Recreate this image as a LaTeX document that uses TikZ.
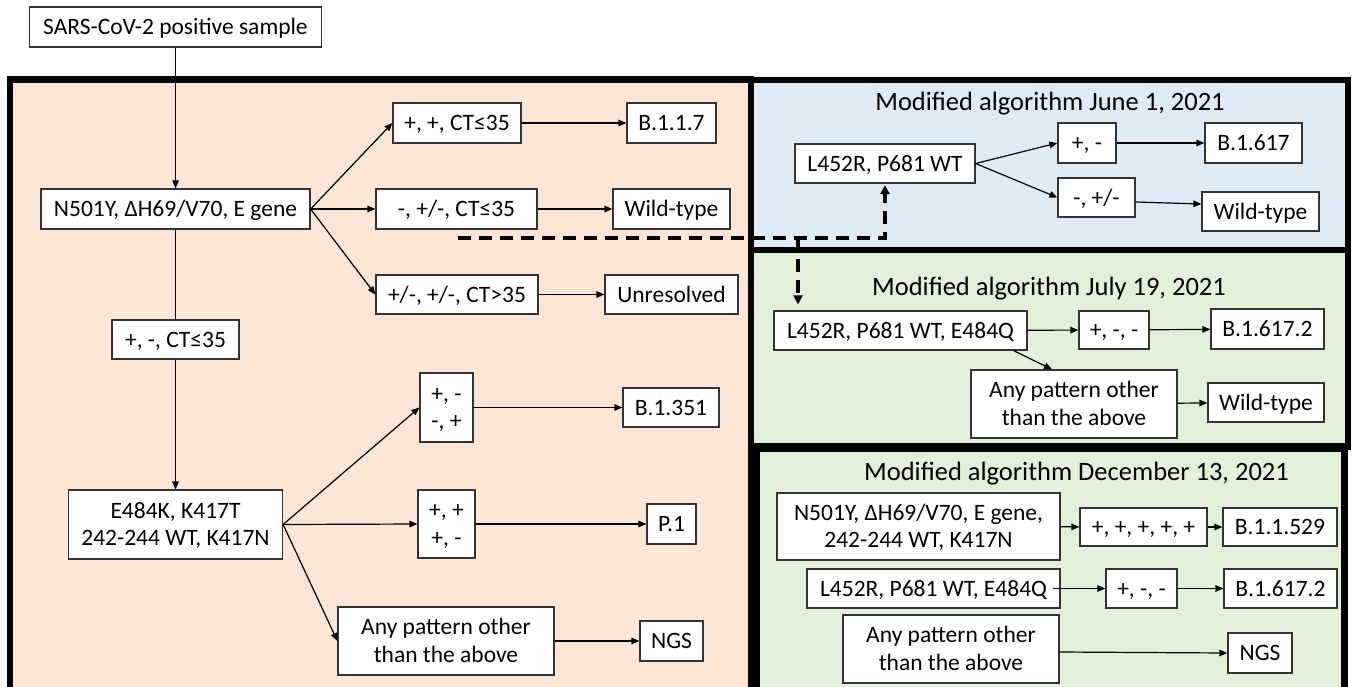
\documentclass[tikz,border=0pt]{standalone}
\usepackage{fontspec}
\setmainfont{Carlito}
\usetikzlibrary{arrows.meta}
\definecolor{peach}{HTML}{FBE5D6}
\definecolor{lblue}{HTML}{DEEBF7}
\definecolor{lgreen}{HTML}{E2F0D9}
\begin{document}
\begin{tikzpicture}[x=1pt,y=-1pt,
  box/.style={draw=black!80, fill=white, line width=1.2pt, inner sep=0pt,
    font=\fontsize{23.5}{27.7}\selectfont, text height=15pt, text depth=0pt},
  twol/.style={align=center, text height=42.7pt, text depth=0pt},
  ttl/.style={font=\fontsize{26.5}{32}\selectfont, anchor=base, inner sep=0pt},
  arr/.style={-{Triangle[length=8pt,width=6.5pt]}, line width=1.2pt},
  ln/.style={line width=1.2pt},
  dsh/.style={line width=3.5pt, dash pattern=on 13pt off 8pt, -{Triangle[length=9pt,width=9pt]}},
  panel/.style={line width=6.5pt}]
\useasboundingbox (0,0) rectangle (1354,686);
\clip (0,0) rectangle (1354,686);

% panels
\draw[panel, fill=peach] (10,79.5) rectangle (751,730);
\draw[panel, fill=lblue] (751,80) rectangle (1348,250);
\draw[panel, fill=lgreen] (751,250) rectangle (1348,446.5);
\draw[panel, fill=lgreen] (756.5,448.5) rectangle (1344.5,730);

% main algorithm
\node[box, minimum width=292pt, minimum height=40pt] (top) at (175.5,27) {SARS-CoV-2 positive sample};
\node[box, minimum width=269pt, minimum height=40pt] (n501) at (175.5,209) {N501Y, ΔH69/V70, E gene};
\node[box, minimum width=128pt, minimum height=40pt] (pp) at (457,123) {+, +, CT≤35};
\node[box, minimum width=89pt, minimum height=40pt] (b117) at (671.5,123) {B.1.1.7};
\node[box, minimum width=161pt, minimum height=40pt] (mp) at (456.5,209) {-, +/-, CT≤35};
\node[box, minimum width=117pt, minimum height=40pt] (wt1) at (671.5,209) {Wild-type};
\node[box, minimum width=162pt, minimum height=39pt] (pmpm) at (457,294.5) {+/-, +/-, CT>35};
\node[box, minimum width=133pt, minimum height=39pt] (unres) at (671.5,294.5) {Unresolved};
\node[box, minimum width=127pt, minimum height=39pt] (pmct) at (175.5,339.5) {+, -, CT≤35};
\node[box, twol, minimum width=214pt, minimum height=69pt] (e484) at (175.5,524.5) {E484K, K417T\\242-244 WT, K417N};
\node[box, twol, minimum width=53pt, minimum height=69pt] (pm2) at (446.5,407.5) {+, -\\-, +};
\node[box, minimum width=96pt, minimum height=39pt] (b1351) at (671,407.5) {B.1.351};
\node[box, twol, minimum width=57pt, minimum height=68pt] (pp2) at (446.5,524) {+, +\\+, -};
\node[box, minimum width=49pt, minimum height=40pt] (p1) at (671.5,524) {P.1};
\node[box, twol, minimum width=216pt, minimum height=68pt] (any1) at (446,641) {Any pattern other\\than the above};
\node[box, minimum width=63pt, minimum height=40pt] (ngs1) at (671.5,641) {NGS};

\draw[arr] (top) -- (n501);
\draw[arr] (n501.east) -- (pp.west);
\draw[arr] (n501.east) -- (mp.west);
\draw[arr] (n501.east) -- (pmpm.west);
\draw[arr] (pp) -- (b117);
\draw[arr] (mp) -- (wt1);
\draw[arr] (pmpm) -- (unres);
\draw[ln] (n501) -- (pmct);
\draw[arr] (pmct) -- (e484);
\draw[arr] (e484.east) -- (pm2.west);
\draw[arr] (e484.east) -- (pp2.west);
\draw[arr] (e484.east) -- (any1.west);
\draw[arr] (pm2) -- (b1351);
\draw[arr] (pp2) -- (p1);
\draw[arr] (any1) -- (ngs1);

% June 1
\node[ttl] (t1) at (1050,110) {Modified algorithm June 1, 2021};
\node[box, minimum width=180pt, minimum height=39pt] (l452a) at (885,163.5) {L452R, P681 WT};
\node[box, minimum width=58pt, minimum height=40pt] (pmA) at (1087,143) {+, -};
\node[box, minimum width=97pt, minimum height=40pt] (b1617) at (1253.5,143) {B.1.617};
\node[box, minimum width=77pt, minimum height=39pt] (mpmA) at (1096.5,197.5) {-, +/-};
\node[box, minimum width=117pt, minimum height=39pt] (wtA) at (1260.5,211.5) {Wild-type};
\draw[arr] (l452a.east) -- (pmA.west);
\draw[arr] (l452a.east) -- (mpmA.west);
\draw[arr] (pmA) -- (b1617);
\draw[arr] ([yshift=-4.5pt]mpmA.east) -- ([yshift=7.5pt]wtA.west);

% July 19
\node[ttl] (t2) at (1049,295) {Modified algorithm July 19, 2021};
\node[box, minimum width=253pt, minimum height=39pt] (l452b) at (900.5,330.5) {L452R, P681 WT, E484Q};
\node[box, minimum width=70pt, minimum height=38pt] (pmmB) at (1114,330) {+, -, -};
\node[box, minimum width=113pt, minimum height=40pt] (b16172a) at (1267.5,329) {B.1.617.2};
\node[box, twol, minimum width=206pt, minimum height=68pt] (anyB) at (1074,404) {Any pattern other\\than the above};
\node[box, minimum width=116pt, minimum height=39pt] (wtB) at (1266,402.5) {Wild-type};
\draw[arr] (l452b) -- (pmmB);
\draw[arr] (pmmB) -- (b16172a);
\draw[arr] ([xshift=-14pt]l452b.south east) -- ([xshift=-22pt]anyB.north);
\draw[arr] (anyB) -- (wtB);

% December 13
\node[ttl] (t3) at (1076.5,480) {Modified algorithm December 13, 2021};
\node[box, twol, minimum width=283pt, minimum height=67pt] (n501c) at (918.5,526.5) {N501Y, ΔH69/V70, E gene,\\242-244 WT, K417N};
\node[box, minimum width=127pt, minimum height=38pt] (p5) at (1143.5,527) {+, +, +, +, +};
\node[box, minimum width=114pt, minimum height=38pt] (b11529) at (1280,527) {B.1.1.529};
\node[box, minimum width=253pt, minimum height=39pt] (l452c) at (933.5,588.5) {L452R, P681 WT, E484Q};
\node[box, minimum width=71pt, minimum height=39pt] (pmmC) at (1141.5,588.5) {+, -, -};
\node[box, minimum width=113pt, minimum height=39pt] (b16172b) at (1280.5,588.5) {B.1.617.2};
\node[box, twol, minimum width=216pt, minimum height=68pt] (anyC) at (951,649) {Any pattern other\\than the above};
\node[box, minimum width=64pt, minimum height=40pt] (ngsC) at (1260,653) {NGS};
\draw[arr] (n501c) -- (p5);
\draw[arr] (p5) -- (b11529);
\draw[arr] ([xshift=-8pt]l452c.east) -- (pmmC.west);
\draw[arr] (pmmC) -- (b16172b);
\draw[arr] ([yshift=-3pt]anyC.east) -- (ngsC.west);

% dashed connectors
\coordinate (dA) at (458,238);
\coordinate (dB) at (798,238);
\draw[dsh, shorten >=1.5pt] (dA) -| (l452a.south);
\draw[dsh, shorten >=6pt] (dB) -- (dB |- l452b.north);
\end{tikzpicture}
\end{document}
